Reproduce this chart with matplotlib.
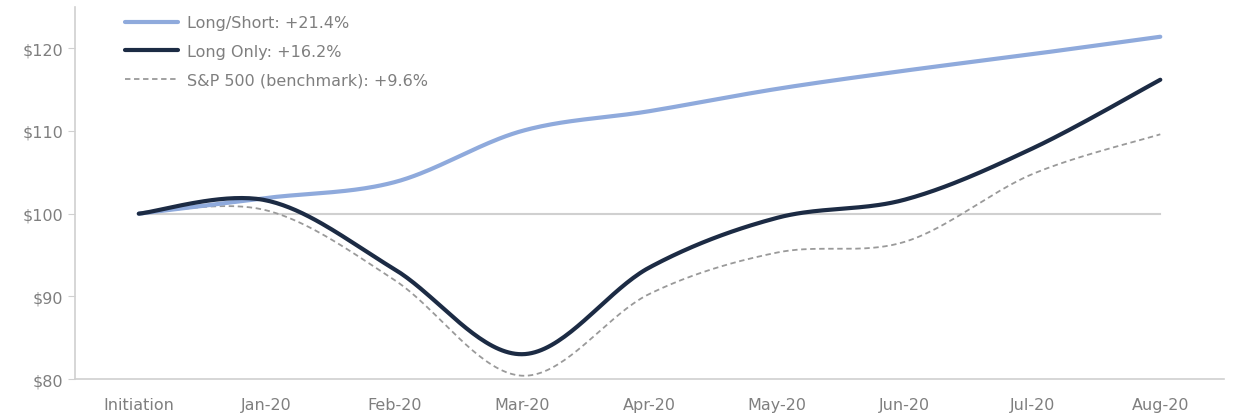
import matplotlib
matplotlib.use("Agg")
import matplotlib.pyplot as plt
import numpy as np

months = ["Initiation", "Jan-20", "Feb-20", "Mar-20", "Apr-20",
          "May-20", "Jun-20", "Jul-20", "Aug-20"]
long_short = [100, 101.9, 103.8, 110.0, 112.4, 115.1, 117.3, 119.3, 121.4]
long_only = [100, 101.6, 93.3, 83.0, 93.5, 99.5, 101.7, 107.9, 116.2]
sp500 = [100, 100.4, 92.0, 80.4, 90.3, 95.3, 96.6, 104.8, 109.6]

labels = ["Long/Short: +21.4%", "Long Only: +16.2%", "S&P 500 (benchmark): +9.6%"]

text_color = "#7f7f7f"


def smooth(y, n=40):
    # catmull-rom curve through the points, like excel's smoothed lines
    y = np.asarray(y, dtype=float)
    x = np.arange(len(y), dtype=float)
    px = np.concatenate([[x[0]], x, [x[-1]]])
    py = np.concatenate([[y[0]], y, [y[-1]]])
    xs, ys = [], []
    for i in range(1, len(px) - 2):
        p0, p1, p2, p3 = px[i - 1], px[i], px[i + 1], px[i + 2]
        q0, q1, q2, q3 = py[i - 1], py[i], py[i + 1], py[i + 2]
        t = np.linspace(0, 1, n)
        b1x, b1y = p1 + (p2 - p0) / 6, q1 + (q2 - q0) / 6
        b2x, b2y = p2 - (p3 - p1) / 6, q2 - (q3 - q1) / 6
        cx = (1 - t) ** 3 * p1 + 3 * (1 - t) ** 2 * t * b1x + 3 * (1 - t) * t ** 2 * b2x + t ** 3 * p2
        cy = (1 - t) ** 3 * q1 + 3 * (1 - t) ** 2 * t * b1y + 3 * (1 - t) * t ** 2 * b2y + t ** 3 * q2
        xs.append(cx)
        ys.append(cy)
    return np.concatenate(xs), np.concatenate(ys)


fig = plt.figure(figsize=(12.37, 4.14), dpi=100)
ax = fig.add_axes([0.0606, 0.0821, 0.929, 0.8986])

ax.plot([0, len(months) - 1], [100, 100], color="#d0d0d0", lw=1.5, zorder=1)

x, y = smooth(long_short)
ax.plot(x, y, color="#8faadc", lw=3.0, label=labels[0], solid_capstyle="round", zorder=3)
x, y = smooth(long_only)
ax.plot(x, y, color="#1c2b44", lw=3.0, label=labels[1], solid_capstyle="round", zorder=4)
x, y = smooth(sp500)
ax.plot(x, y, color="#9a9a9a", lw=1.3, ls=(0, (3, 2)), label=labels[2], zorder=2)

ax.set_xlim(-0.5, len(months) - 0.5)
ax.set_ylim(80, 125)
ax.set_yticks([80, 90, 100, 110, 120])
ax.set_yticklabels(["$80", "$90", "$100", "$110", "$120"])
ax.set_xticks(range(len(months)))
ax.set_xticklabels(months)

for s in ["top", "right"]:
    ax.spines[s].set_visible(False)
for s in ["left", "bottom"]:
    ax.spines[s].set_color("#d0d0d0")
    ax.spines[s].set_linewidth(1.2)

ax.tick_params(axis="y", colors="#d0d0d0", labelcolor=text_color, labelsize=11.5, length=5)
ax.tick_params(axis="x", length=0, labelcolor=text_color, labelsize=11.5, pad=13)

leg = ax.legend(loc="upper left", bbox_to_anchor=(0.031, 1.016), frameon=False,
                fontsize=11.5, handlelength=3.3, labelspacing=0.85, handletextpad=0.6)
for t in leg.get_texts():
    t.set_color(text_color)

fig.savefig("out.png", dpi=100)
